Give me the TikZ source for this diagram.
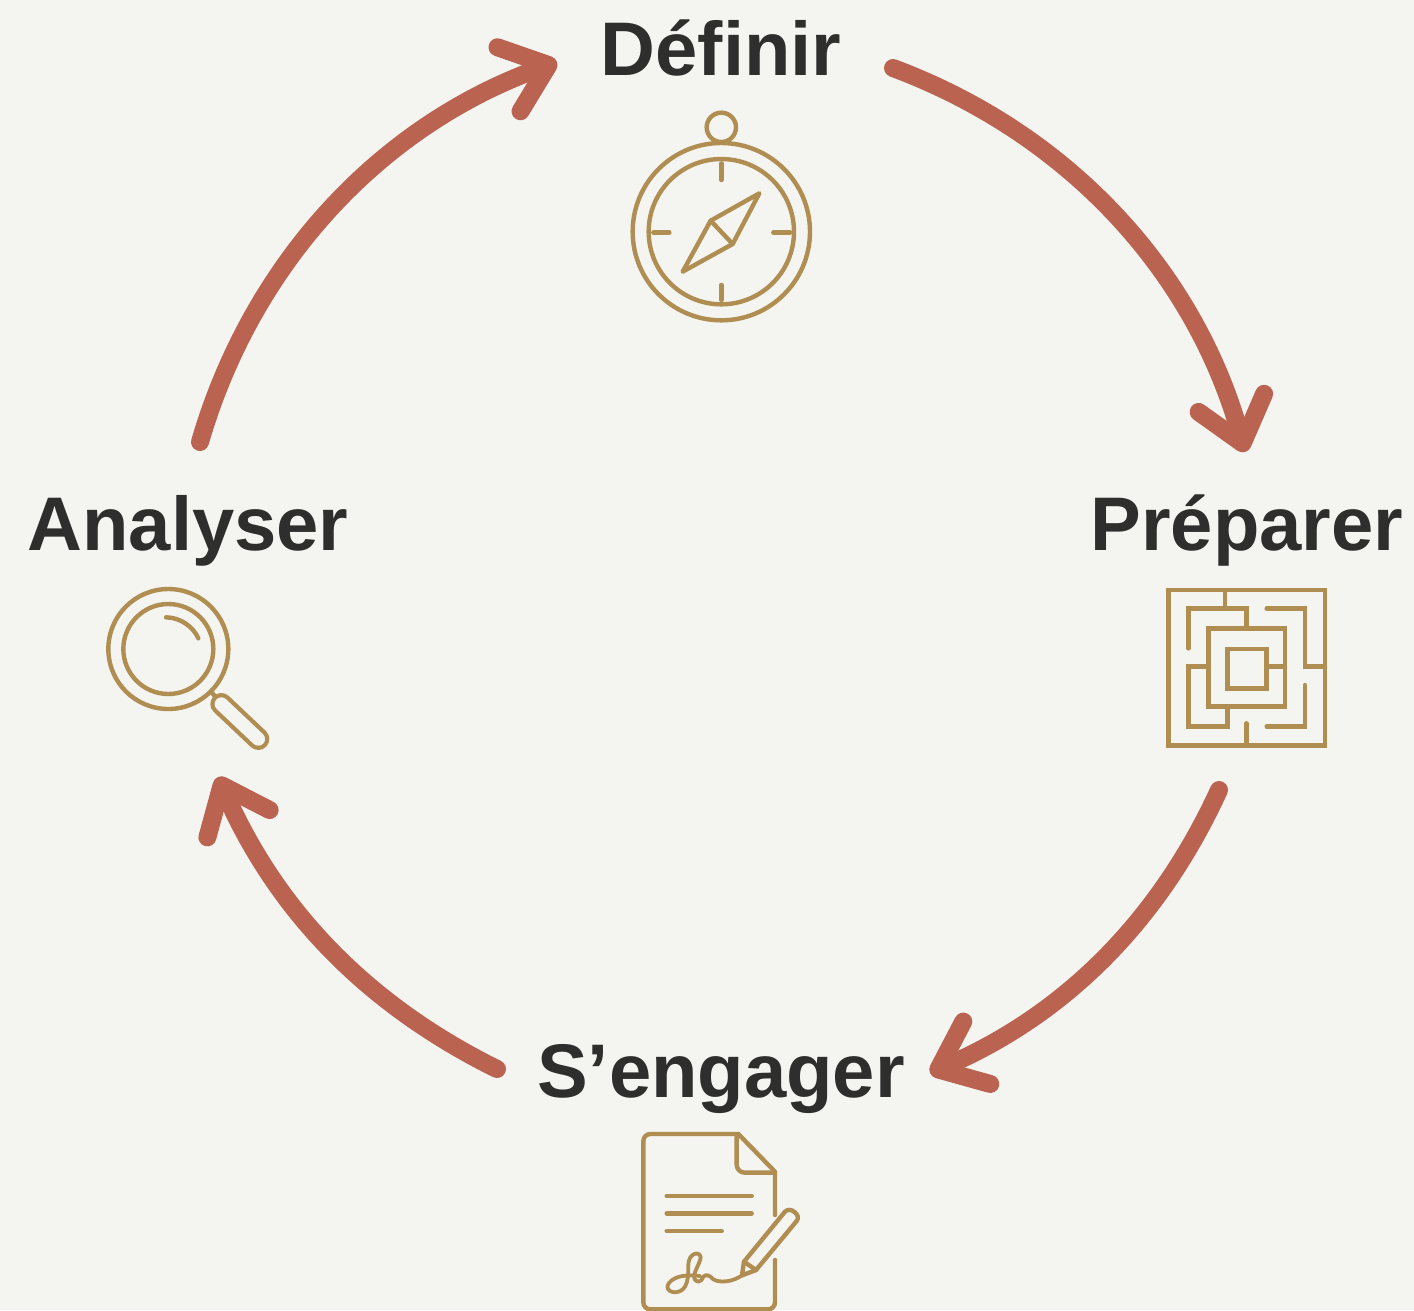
\documentclass[tikz,border=0pt]{standalone}
\usepackage{fontspec}
\setmainfont{Liberation Sans}
\usetikzlibrary{arrows.meta}
\definecolor{bgc}{HTML}{F4F4F1}
\definecolor{arrowc}{HTML}{BA6350}
\definecolor{iconc}{HTML}{B08D50}
\definecolor{textc}{HTML}{2E2E2C}
\tikzset{
  cyclearrow/.style={draw=arrowc,line width=18pt,line cap=round,looseness=0.92,
    -{Straight Barb[length=42pt,width=68pt,round]}},
  label/.style={anchor=base,text=textc,inner sep=0pt,font=\fontsize{76}{76}\selectfont\bfseries},
  icon/.style={draw=iconc,line width=4.4pt,line cap=round,line join=round},
  thin icon/.style={icon,line width=3.8pt}
}
\begin{document}
\begin{tikzpicture}[x=1pt,y=-1pt]
\useasboundingbox (0,0) rectangle (1414,1310);
\fill[bgc] (0,0) rectangle (1414,1310);
\clip (0,0) rectangle (1414,1310);

% labels
\node[label] (definir) at (721,75) {Définir};
\node[label] (preparer) at (1247,550) {Préparer};
\node[label] (engager) at (721,1097) {S’engager};
\node[label] (analyser) at (188,550) {Analyser};

% arrow ends
\coordinate (a1s) at (893,68);
\coordinate (a1e) at (1245,452);
\coordinate (a2s) at (1219,790);
\coordinate (a2e) at (930,1073);
\coordinate (a3s) at (497,1069);
\coordinate (a3e) at (218,777);
\coordinate (a4s) at (200,442);
\coordinate (a4e) at (557,62);

\draw[cyclearrow] (a1s) to[bend left=27] (a1e);
\draw[cyclearrow] (a2s) to[bend left=21] (a2e);
\draw[cyclearrow] (a3s) to[bend left=20] (a3e);
\draw[cyclearrow] (a4s) to[bend left=27] (a4e);

% compass
\begin{scope}[shift={(610,100)},scale=1/3]
  \draw[icon] (334,395) circle (266);
  \draw[icon] (334,395) circle (218);
  \draw[icon] (334,82) circle (44);
  \draw[icon] (334,190) -- (334,240);
  \draw[icon] (334,555) -- (334,600);
  \draw[icon] (130,397) -- (178,397);
  \draw[icon] (490,397) -- (540,397);
  \draw[icon] (448,280) -- (302,362) -- (218,515) -- (368,432) -- cycle;
  \draw[icon] (302,362) -- (368,432);
\end{scope}

% maze
\begin{scope}[shift={(1150,575)},scale=1/3]
  \draw[icon,line cap=butt,line join=miter] (55,45) rectangle (525,512);
  \draw[icon,line cap=butt] (225,45) -- (225,100);
  \draw[icon,line join=miter] (115,220) -- (115,100) -- (290,100) -- (290,160);
  \draw[icon,line join=miter] (175,160) rectangle (405,395);
  \draw[icon,line join=miter] (232,222) rectangle (350,340);
  \draw[icon] (350,275) -- (405,275);
  \draw[icon,line join=miter] (350,100) -- (465,100) -- (465,275) -- (525,275);
  \draw[icon,line join=miter] (175,275) -- (115,275) -- (115,455) -- (232,455) -- (232,395);
  \draw[icon,line join=miter] (465,330) -- (465,455) -- (350,455);
  \draw[icon] (290,445) -- (290,512);
\end{scope}

% document
\begin{scope}[shift={(620,1120)},scale=1/3]
  \draw[icon,rounded corners=7pt] (465,420) -- (465,568) -- (70,568) -- (70,42) -- (355,42);
  \draw[icon] (355,42) -- (465,155) -- (465,285);
  \draw[icon,rounded corners=8pt] (350,50) -- (350,158) -- (465,158);
  \draw[icon] (140,228) -- (395,228);
  \draw[icon] (140,280) -- (395,280);
  \draw[icon] (140,333) -- (305,333);
  \draw[icon] (366,466) -- (372,425) -- (495,275)
     .. controls (510,258) and (545,285) .. (530,303)
     -- (408,450) -- cycle;
  \draw[icon] (372,425) -- (408,450);
  \draw[thin icon] (366,466) .. controls (340,485) and (300,490) .. (280,478)
     .. controls (268,465) and (258,462) .. (250,470)
     .. controls (243,490) and (225,490) .. (222,470)
     .. controls (222,455) and (240,430) .. (242,412)
     .. controls (240,392) and (205,398) .. (205,435)
     .. controls (205,470) and (205,515) .. (165,517)
     .. controls (135,515) and (135,490) .. (165,475)
     .. controls (185,465) and (215,465) .. (240,468);
\end{scope}

% magnifier
\begin{scope}[shift={(90,575)},scale=1/3]
  \draw[icon] (235,222) circle (180);
  \draw[icon] (235,222) circle (135);
  \draw[icon] (228,127) .. controls (270,127) and (310,155) .. (325,190);
  \draw[icon] (365,352) -- (376,365);
  \draw[iconc,line width=22pt,line cap=round] (394,387) -- (505,492);
  \draw[bgc,line width=13.4pt,line cap=round] (394,387) -- (505,492);
\end{scope}
\end{tikzpicture}
\end{document}
